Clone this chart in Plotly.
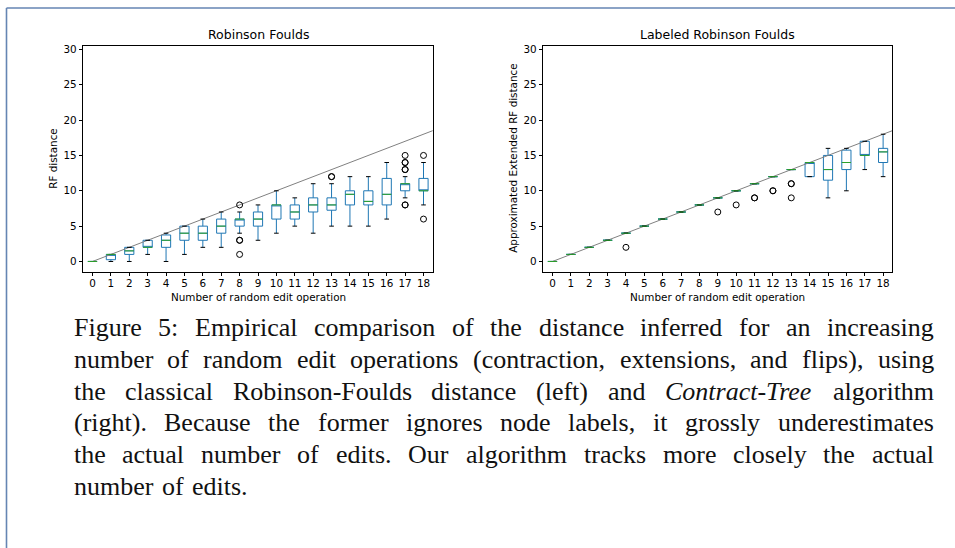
import plotly.graph_objects as go

W, H = 955, 548

# ---------------- data ----------------
categories = [0, 1, 2, 3, 4, 5, 6, 7, 8, 9, 10, 11, 12, 13, 14, 15, 16, 17, 18]
tick_labels = [str(c) for c in categories]

# Left panel: Robinson Foulds
rf_low = [0, 0, 0, 1, 0, 1, 2, 2, 4, 3, 4, 5, 4, 5, 5, 5, 6, 9, 8]
rf_q1 = [0, 0.25, 1, 2, 2, 3, 3, 4, 5, 5, 6, 6, 7, 7.25, 8, 8, 8, 10, 10]
rf_median = [0, 1, 1.5, 2, 3, 4, 4, 5, 6, 6, 8, 7, 8, 8, 9.5, 8.5, 9.5, 11, 10]
rf_q3 = [0, 1, 2, 3, 3.75, 5, 5, 6, 6, 7, 8, 8, 9, 9, 10, 10, 11.75, 11, 11.75]
rf_high = [0, 1, 2, 3, 4, 5, 6, 7, 7, 8, 10, 9, 11, 11, 12, 12, 14, 12, 14]
rf_out_x = [8, 8, 8, 8, 13, 13, 17, 17, 17, 17, 17, 17, 17, 18, 18]
rf_out_y = [8, 3, 3, 1, 12, 12, 15, 14, 14, 13, 13, 8, 8, 15, 6]

# Right panel: Labeled Robinson Foulds
lrf_low = [0, 1, 2, 3, 4, 5, 6, 7, 8, 9, 10, 11, 12, 13, 12, 9, 10, 13, 12]
lrf_q1 = [0, 1, 2, 3, 4, 5, 6, 7, 8, 9, 10, 11, 12, 13, 12, 11.5, 13, 15, 14]
lrf_median = [0, 1, 2, 3, 4, 5, 6, 7, 8, 9, 10, 11, 12, 13, 14, 13, 14, 15, 15.5]
lrf_q3 = [0, 1, 2, 3, 4, 5, 6, 7, 8, 9, 10, 11, 12, 13, 14, 15, 15.75, 17, 16]
lrf_high = [0, 1, 2, 3, 4, 5, 6, 7, 8, 9, 10, 11, 12, 13, 14, 16, 16, 17, 18]
lrf_out_x = [4, 9, 10, 11, 11, 12, 12, 13, 13, 13]
lrf_out_y = [2, 7, 8, 9, 9, 10, 10, 11, 11, 9]

# identity reference line (distance == number of edits)
identity = [0, 19]

y_ticks = [0, 5, 10, 15, 20, 25, 30]

titles = ["Robinson Foulds", "Labeled Robinson Foulds"]
y_labels = ["RF distance", "Approximated Extended RF distance"]
x_label = "Number of random edit operation"

caption_lines = [
    "Figure 5: Empirical comparison of the distance inferred for an increasing",
    "number of random edit operations (contraction, extensions, and flips), using",
    "the classical Robinson-Foulds distance (left) and <i>Contract-Tree</i> algorithm",
    "(right). Because the former ignores node labels, it grossly underestimates",
    "the actual number of edits. Our algorithm tracks more closely the actual",
    "number of edits.",
]

# ---------------- styling ----------------
BLUE = "#1f77b4"
GREEN = "#2ca02c"
SANS = "DejaVu Sans"
SERIF = "Liberation Serif"
TICK_FS = 10.4
TITLE_FS = 12.5
CAP_FS = 26

# axes pixel geometry
ax_top, ax_bot = 43.3, 270.0
panels_px = [(83.3, 432.7), (543.3, 892.3)]
y_range = [-1.42, 30.47]
x_range = [-0.5, 18.5]


def px_x(p):
    return p / W


def px_y(p):
    return 1 - p / H


fig = go.Figure()

datasets = [
    (rf_low, rf_q1, rf_median, rf_q3, rf_high, rf_out_x, rf_out_y),
    (lrf_low, lrf_q1, lrf_median, lrf_q3, lrf_high, lrf_out_x, lrf_out_y),
]

for k, (low, q1, med, q3, high, ox, oy) in enumerate(datasets):
    xa = "x" if k == 0 else "x2"
    ya = "y" if k == 0 else "y2"
    # reference line
    fig.add_trace(go.Scatter(x=identity, y=identity, mode="lines",
                             line=dict(color="#808080", width=1),
                             xaxis=xa, yaxis=ya, showlegend=False, hoverinfo="skip"))
    # boxes + whiskers
    fig.add_trace(go.Box(x=categories, q1=q1, median=med, q3=q3,
                         lowerfence=low, upperfence=high,
                         width=0.5, whiskerwidth=0, boxpoints=False,
                         line=dict(color=BLUE, width=1),
                         fillcolor="rgba(0,0,0,0)",
                         xaxis=xa, yaxis=ya, showlegend=False))
    # caps (black)
    cx, cy = [], []
    for c, lo, hi in zip(categories, low, high):
        cx += [c - 0.125, c + 0.125, None, c - 0.125, c + 0.125, None]
        cy += [lo, lo, None, hi, hi, None]
    fig.add_trace(go.Scatter(x=cx, y=cy, mode="lines",
                             line=dict(color="black", width=1),
                             xaxis=xa, yaxis=ya, showlegend=False, hoverinfo="skip"))
    # medians (green)
    mx, my = [], []
    for c, m in zip(categories, med):
        mx += [c - 0.25, c + 0.25, None]
        my += [m, m, None]
    fig.add_trace(go.Scatter(x=mx, y=my, mode="lines",
                             line=dict(color=GREEN, width=1),
                             xaxis=xa, yaxis=ya, showlegend=False, hoverinfo="skip"))
    # fliers
    fig.add_trace(go.Scatter(x=ox, y=oy, mode="markers",
                             marker=dict(symbol="circle-open", size=6, color="black",
                                         line=dict(width=1, color="black")),
                             xaxis=xa, yaxis=ya, showlegend=False, hoverinfo="skip"))

axis_common = dict(showline=True, linecolor="black", linewidth=0.9, mirror=True,
                   ticks="outside", ticklen=3.6, tickwidth=0.8, tickcolor="black",
                   showgrid=False, zeroline=False,
                   tickfont=dict(family=SANS, size=TICK_FS, color="black"))

fig.update_layout(
    width=W, height=H,
    margin=dict(l=0, r=0, t=0, b=0),
    paper_bgcolor="white", plot_bgcolor="white",
    showlegend=False,
    xaxis=dict(domain=[px_x(panels_px[0][0]), px_x(panels_px[0][1])], range=x_range,
               tickvals=categories, ticktext=tick_labels, anchor="y",
               ticklabelstandoff=-2, **axis_common),
    yaxis=dict(domain=[px_y(ax_bot), px_y(ax_top)], range=y_range,
               tickvals=y_ticks, anchor="x", **axis_common),
    xaxis2=dict(domain=[px_x(panels_px[1][0]), px_x(panels_px[1][1])], range=x_range,
                tickvals=categories, ticktext=tick_labels, anchor="y2",
                ticklabelstandoff=-2, **axis_common),
    yaxis2=dict(domain=[px_y(ax_bot), px_y(ax_top)], range=y_range,
                tickvals=y_ticks, anchor="x2", **axis_common),
)

annotations = []
y_label_x = [53.0, 513.0]
for k, (l, r) in enumerate(panels_px):
    cxp = (l + r) / 2
    annotations.append(dict(text=titles[k], x=px_x(cxp), y=px_y(31.5), xref="paper", yref="paper",
                            xanchor="center", yanchor="middle", showarrow=False,
                            font=dict(family=SANS, size=TITLE_FS, color="black")))
    annotations.append(dict(text=x_label, x=px_x(cxp), y=px_y(295.5), xref="paper", yref="paper",
                            xanchor="center", yanchor="middle", showarrow=False,
                            font=dict(family=SANS, size=TICK_FS, color="black")))
    annotations.append(dict(text=y_labels[k], x=px_x(y_label_x[k]), y=px_y((ax_top + ax_bot) / 2),
                            xref="paper", yref="paper", textangle=-90,
                            xanchor="center", yanchor="middle", showarrow=False,
                            font=dict(family=SANS, size=TICK_FS, color="black")))

# ---- caption, justified word by word using Times-compatible metrics ----
ROMAN = {' ': 250, '(': 333, ')': 333, ',': 250, '-': 333, '.': 250, ':': 278,
         'A': 722, 'B': 667, 'C': 667, 'D': 722, 'E': 611, 'F': 556, 'G': 722, 'H': 722,
         'I': 333, 'J': 389, 'K': 722, 'L': 611, 'M': 889, 'N': 722, 'O': 722, 'P': 556,
         'Q': 722, 'R': 667, 'S': 556, 'T': 611, 'U': 722, 'V': 722, 'W': 944, 'X': 722,
         'Y': 722, 'Z': 611,
         'a': 444, 'b': 500, 'c': 444, 'd': 500, 'e': 444, 'f': 333, 'g': 500, 'h': 500,
         'i': 278, 'j': 278, 'k': 500, 'l': 278, 'm': 778, 'n': 500, 'o': 500, 'p': 500,
         'q': 500, 'r': 333, 's': 389, 't': 278, 'u': 500, 'v': 500, 'w': 722, 'x': 500,
         'y': 500, 'z': 444}
ITALIC = dict(ROMAN)
ITALIC.update({'a': 500, 'f': 278, 'r': 389, 'T': 556, 'C': 667})


def word_width(word, size):
    italic = word.startswith("<i>")
    plain = word.replace("<i>", "").replace("</i>", "")
    table = ITALIC if italic else ROMAN
    return sum(table.get(ch, 500) for ch in plain) * size / 1000.0


cap_left, cap_right = 72.7, 933.0
base0, lead = 334.5, 31.8
for li, line in enumerate(caption_lines):
    words = line.split(" ")
    widths = [word_width(w, CAP_FS) for w in words]
    last = li == len(caption_lines) - 1
    if last or len(words) == 1:
        gap = 0.25 * CAP_FS + 2
    else:
        gap = (cap_right - cap_left - sum(widths)) / (len(words) - 1)
    xcur = cap_left
    ycen = base0 + li * lead - 0.3 * CAP_FS
    for w, ww in zip(words, widths):
        annotations.append(dict(text=w, x=px_x(xcur), y=px_y(ycen), xref="paper", yref="paper",
                                xanchor="left", yanchor="middle", showarrow=False, borderpad=0,
                                font=dict(family=SERIF, size=CAP_FS, color="#111111")))
        xcur += ww + gap

fig.update_layout(annotations=annotations)

# page frame (top and left rules)
FRAME = "#6585b3"
fig.add_shape(type="line", xref="paper", yref="paper", x0=px_x(6.5), x1=1, y0=px_y(5), y1=px_y(5),
              line=dict(color=FRAME, width=1.6))
fig.add_shape(type="line", xref="paper", yref="paper", x0=px_x(6.5), x1=px_x(6.5), y0=px_y(5), y1=0,
              line=dict(color=FRAME, width=1.6))

fig.write_html("out.html",
               config={"displayModeBar": False},
               post_script="document.body.style.margin='0';document.body.style.overflow='hidden';")
